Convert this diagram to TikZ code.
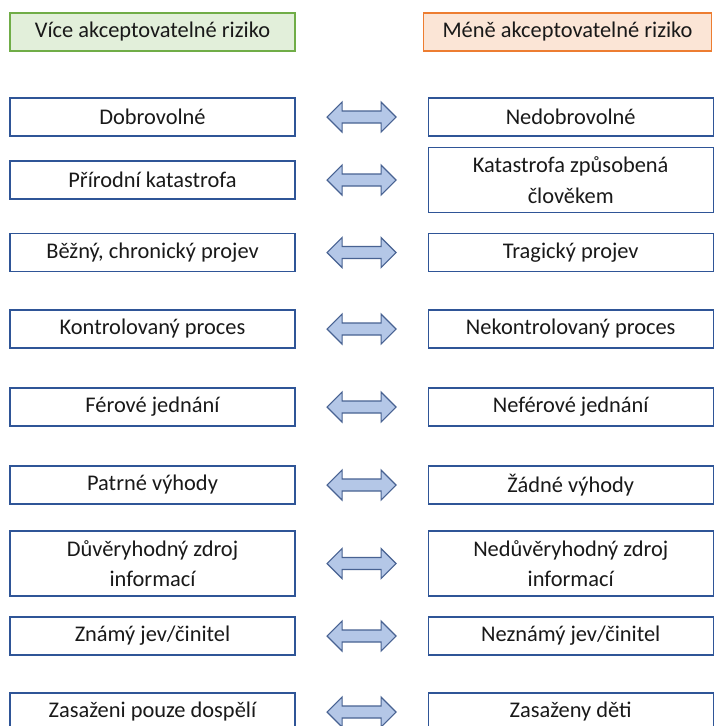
\documentclass[tikz,border=0pt]{standalone}
\usepackage{fontspec}
\setmainfont{Carlito}
\usetikzlibrary{positioning}
\definecolor{BoxBlue}{RGB}{47,85,151}
\definecolor{TextGrey}{RGB}{25,25,25}
\definecolor{HeadGreen}{RGB}{112,173,71}
\definecolor{SoftGreen}{RGB}{226,239,218}
\definecolor{HeadOrange}{RGB}{237,125,49}
\definecolor{SoftOrange}{RGB}{251,229,214}
\definecolor{ArrowFill}{RGB}{180,199,231}
\definecolor{ArrowLine}{RGB}{72,98,146}
\tikzset{
  riskbox/.style={draw=BoxBlue,fill=white,line width=0.9pt,
    minimum width=213.75pt,minimum height=28.5pt,align=center,
    font=\fontsize{16.8}{23}\selectfont,text=TextGrey},
  tallbox/.style={riskbox,minimum height=48.75pt},
  headgood/.style={riskbox,draw=HeadGreen,fill=SoftGreen},
  headbad/.style={riskbox,draw=HeadOrange,fill=SoftOrange,minimum width=216.5pt},
  arrowblock/.style={draw=ArrowLine,fill=ArrowFill,line width=0.9pt,line join=miter},
  twoway/.pic={
    \draw[arrowblock] (-34.5,0) -- (-19.5,-15) -- (-19.5,-6) -- (19.5,-6)
      -- (19.5,-15) -- (34.5,0) -- (19.5,15) -- (19.5,6) -- (-19.5,6)
      -- (-19.5,15) -- cycle;
  }
}

\begin{document}
\begin{tikzpicture}[x=0.75pt,y=-0.75pt]
  \clip (0,0) rectangle (714,726);
  \fill[white] (0,0) rectangle (714,726);

  % column heads
  \node[headgood] (hgood) at (152.5,32) {Více akceptovatelné riziko};
  \node[headbad] (hbad) at (567.5,32) {Méně akceptovatelné riziko};

  % more acceptable
  \node[riskbox] (l1) at (152.5,117) {Dobrovolné};
  \node[riskbox] (l2) at (152.5,180) {Přírodní katastrofa};
  \node[riskbox] (l3) at (152.5,252.5) {Běžný, chronický projev};
  \node[riskbox] (l4) at (152.5,329) {Kontrolovaný proces};
  \node[riskbox] (l5) at (152.5,407) {Férové jednání};
  \node[riskbox] (l6) at (152.5,485) {Patrné výhody};
  \node[tallbox] (l7) at (152.5,563.5) {Důvěryhodný zdroj\\informací};
  \node[riskbox] (l8) at (152.5,636) {Známý jev/činitel};
  \node[riskbox] (l9) at (152.5,712) {Zasaženi pouze dospělí};

  % less acceptable
  \node[riskbox,right=99pt of l1] (r1) {Nedobrovolné};
  \node[tallbox,right=99pt of l2] (r2) {Katastrofa způsobená\\člověkem};
  \node[riskbox,right=99pt of l3] (r3) {Tragický projev};
  \node[riskbox,right=99pt of l4] (r4) {Nekontrolovaný proces};
  \node[riskbox,right=99pt of l5] (r5) {Neférové jednání};
  \node[riskbox,right=99pt of l6] (r6) {Žádné výhody};
  \node[tallbox,right=99pt of l7] (r7) {Nedůvěryhodný zdroj\\informací};
  \node[riskbox,right=99pt of l8] (r8) {Neznámý jev/činitel};
  \node[riskbox,right=99pt of l9] (r9) {Zasaženy děti};

  % double arrows
  \foreach \i in {1,...,9}{
    \path (l\i) -- coordinate[midway] (m\i) (r\i);
    \pic at (m\i) {twoway};
  }
\end{tikzpicture}
\end{document}
